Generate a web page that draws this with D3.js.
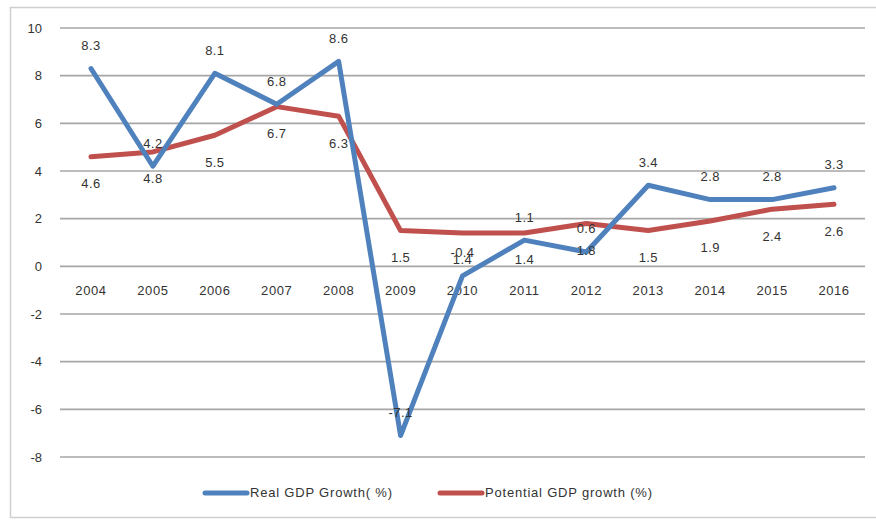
<!DOCTYPE html>
<html>
<head>
<meta charset="utf-8">
<script src="https://cdn.jsdelivr.net/npm/d3@7"></script>
<style>
  html, body { margin: 0; padding: 0; background: #fff; }
  text { font-family: "Liberation Sans", "DejaVu Sans", sans-serif; fill: #333; }
</style>
</head>
<body>
<svg id="chart" width="876" height="520"></svg>
<script>
// Years on the category axis
const years = ["2004","2005","2006","2007","2008","2009","2010","2011","2012","2013","2014","2015","2016"];
// Real GDP growth (%)
const realGrowth = [8.3, 4.2, 8.1, 6.8, 8.6, -7.1, -0.4, 1.1, 0.6, 3.4, 2.8, 2.8, 3.3];
// Potential GDP growth (%)
const potentialGrowth = [4.6, 4.8, 5.5, 6.7, 6.3, 1.5, 1.4, 1.4, 1.8, 1.5, 1.9, 2.4, 2.6];
// Value-axis ticks
const yTicks = [-8, -6, -4, -2, 0, 2, 4, 6, 8, 10];
// Series names
const seriesNames = ["Real GDP Growth( %)", "Potential GDP growth (%)"];
const seriesColors = ["#4f81bd", "#c0504d"];

// plain hyphen for negatives
const fmtInt = d => String(d);
const fmtOne = d => d.toFixed(1);

const svg = d3.select("#chart");

// outer chart frame
svg.append("rect")
  .attr("x", 10.5).attr("y", 7.5)
  .attr("width", 870).attr("height", 510)
  .attr("fill", "#fff")
  .attr("stroke", "#cfcfcf")
  .attr("stroke-width", 1.5);

const x = d3.scaleBand().domain(years).range([60, 865]);
const y = d3.scaleLinear().domain([-8, 10]).range([457, 28]);

// horizontal gridlines
svg.append("g")
  .selectAll("line")
  .data(yTicks)
  .join("line")
  .attr("x1", 60).attr("x2", 865)
  .attr("y1", d => y(d)).attr("y2", d => y(d))
  .attr("stroke", "#a6a6a6")
  .attr("stroke-width", 1.6);

// value axis labels
const yAxis = d3.axisLeft(y).tickValues(yTicks).tickSize(0).tickPadding(0).tickFormat(fmtInt);
const gy = svg.append("g").attr("transform", "translate(42,0)").call(yAxis);
gy.select(".domain").remove();
gy.selectAll("text").attr("font-size", 13).attr("fill", "#333")
  .style("font-family", "'Liberation Sans', sans-serif");

// category axis labels, sitting just under the zero line
const xAxis = d3.axisBottom(x).tickSize(0).tickPadding(0);
const gx = svg.append("g").attr("transform", `translate(0,${y(0) + 19})`).call(xAxis);
gx.select(".domain").remove();
gx.selectAll("text").attr("font-size", 13).attr("fill", "#333")
  .attr("letter-spacing", "0.6px")
  .style("font-family", "'Liberation Sans', sans-serif");

const cx = d => x(d) + x.bandwidth() / 2;

// series lines
const line = d3.line()
  .x((d, i) => cx(years[i]))
  .y(d => y(d));

svg.append("path")
  .datum(potentialGrowth)
  .attr("d", line)
  .attr("fill", "none")
  .attr("stroke", seriesColors[1])
  .attr("stroke-width", 5)
  .attr("stroke-linejoin", "round")
  .attr("stroke-linecap", "round");

svg.append("path")
  .datum(realGrowth)
  .attr("d", line)
  .attr("fill", "none")
  .attr("stroke", seriesColors[0])
  .attr("stroke-width", 5)
  .attr("stroke-linejoin", "round")
  .attr("stroke-linecap", "round");

// data labels: real growth above its points, potential growth below
svg.append("g")
  .selectAll("text")
  .data(realGrowth)
  .join("text")
  .attr("x", (d, i) => cx(years[i]))
  .attr("y", d => y(d) - 22)
  .attr("text-anchor", "middle")
  .attr("dominant-baseline", "middle")
  .attr("font-size", 13)
  .attr("letter-spacing", "0.4px")
  .text(fmtOne);

svg.append("g")
  .selectAll("text")
  .data(potentialGrowth)
  .join("text")
  .attr("x", (d, i) => cx(years[i]))
  .attr("y", d => y(d) + 28)
  .attr("text-anchor", "middle")
  .attr("dominant-baseline", "middle")
  .attr("font-size", 13)
  .attr("letter-spacing", "0.4px")
  .text(fmtOne);

// legend
const legendItems = [
  { name: seriesNames[0], color: seriesColors[0], x: 205 },
  { name: seriesNames[1], color: seriesColors[1], x: 440 }
];
const lg = svg.append("g")
  .selectAll("g")
  .data(legendItems)
  .join("g")
  .attr("transform", d => `translate(${d.x},493)`);
lg.append("line")
  .attr("x1", 0).attr("x2", 42)
  .attr("y1", 0).attr("y2", 0)
  .attr("stroke", d => d.color)
  .attr("stroke-width", 5)
  .attr("stroke-linecap", "round");
lg.append("text")
  .attr("x", 45).attr("y", 1)
  .attr("dominant-baseline", "middle")
  .attr("font-size", 13)
  .attr("letter-spacing", "0.8px")
  .text(d => d.name);
</script>
</body>
</html>
